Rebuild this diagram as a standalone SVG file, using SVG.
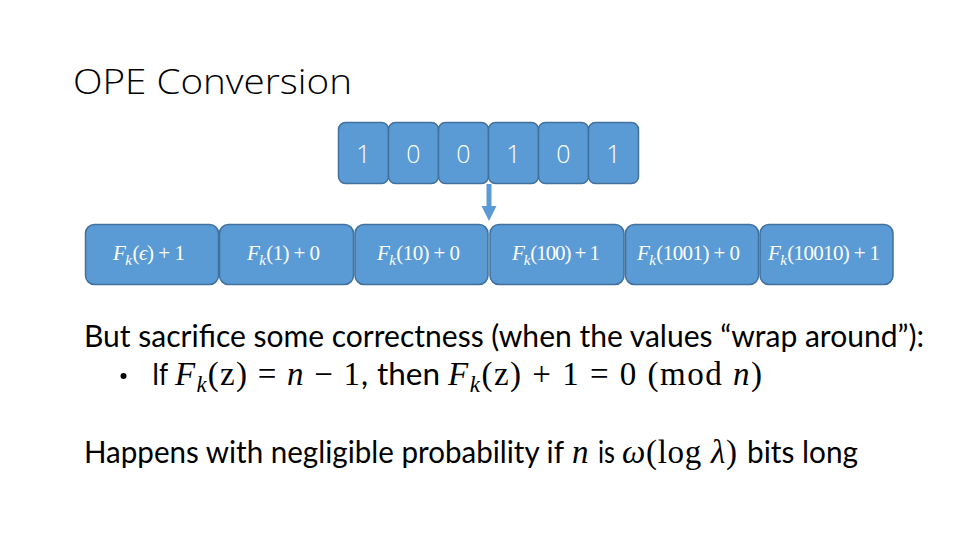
<svg xmlns="http://www.w3.org/2000/svg" width="960" height="540" viewBox="0 0 960 540">
<defs>
<style>
.bit rect{fill:#5B9BD5;stroke:#41719C;stroke-width:1.5}
.bit text{fill:#fff;font-family:"Open Sans","Liberation Sans",sans-serif;font-weight:300;font-size:25px;text-anchor:middle}
.fk rect{fill:#5B9BD5;stroke:#41719C;stroke-width:1.5}
.fk text{fill:#fff;font-family:"Liberation Serif",serif;font-size:21px;text-anchor:middle}
.it{font-style:italic}
.sub{font-style:italic;font-size:15px}
.body{font-family:Lato,"Open Sans","Liberation Sans",sans-serif;font-size:31px;fill:#000}
.m{font-family:"Liberation Serif",serif;font-size:33px;fill:#000}
</style>
</defs>
<rect width="960" height="540" fill="#fff"/>
<text x="73" y="94" font-family="Open Sans, Liberation Sans, sans-serif" font-weight="300" font-size="35" fill="#000" textLength="279" lengthAdjust="spacingAndGlyphs">OPE Conversion</text>

<g id="bit1" class="bit"><rect x="338.5" y="122.5" width="50" height="61" rx="7"/><text x="363.5" y="163">1</text></g>
<g id="bit2" class="bit"><rect x="388.5" y="122.5" width="50" height="61" rx="7"/><text x="413.5" y="163">0</text></g>
<g id="bit3" class="bit"><rect x="438.5" y="122.5" width="50" height="61" rx="7"/><text x="463.5" y="163">0</text></g>
<g id="bit4" class="bit"><rect x="488.5" y="122.5" width="50" height="61" rx="7"/><text x="513.5" y="163">1</text></g>
<g id="bit5" class="bit"><rect x="538.5" y="122.5" width="50" height="61" rx="7"/><text x="563.5" y="163">0</text></g>
<g id="bit6" class="bit"><rect x="588.5" y="122.5" width="50" height="61" rx="7"/><text x="613.5" y="163">1</text></g>

<g id="connectors">
<rect x="486.5" y="184" width="5" height="23" fill="#5B9BD5"/>
<polygon points="481.5,206 496.5,206 489,221" fill="#5B9BD5"/>
</g>

<g id="fk1" class="fk"><rect x="85.5" y="224.5" width="133" height="60" rx="9"/><text x="149" y="260" textLength="72" lengthAdjust="spacing"><tspan class="it">F</tspan><tspan class="sub" dy="5">k</tspan><tspan dy="-5" dx="1">(</tspan><tspan class="it">ϵ</tspan>) + 1</text></g>
<g id="fk2" class="fk"><rect x="219.5" y="224.5" width="134" height="60" rx="9"/><text x="283.5" y="260" textLength="73" lengthAdjust="spacing"><tspan class="it">F</tspan><tspan class="sub" dy="5">k</tspan><tspan dy="-5" dx="1">(1) + 0</tspan></text></g>
<g id="fk3" class="fk"><rect x="355" y="224.5" width="133" height="60" rx="9"/><text x="418.5" y="260" textLength="83" lengthAdjust="spacing"><tspan class="it">F</tspan><tspan class="sub" dy="5">k</tspan><tspan dy="-5" dx="1">(10) + 0</tspan></text></g>
<g id="fk4" class="fk"><rect x="490" y="224.5" width="134" height="60" rx="9"/><text x="556" y="260" textLength="88" lengthAdjust="spacing"><tspan class="it">F</tspan><tspan class="sub" dy="5">k</tspan><tspan dy="-5" dx="1">(100) + 1</tspan></text></g>
<g id="fk5" class="fk"><rect x="625.5" y="224.5" width="133" height="60" rx="9"/><text x="688.5" y="260" textLength="103" lengthAdjust="spacing"><tspan class="it">F</tspan><tspan class="sub" dy="5">k</tspan><tspan dy="-5" dx="1">(1001) + 0</tspan></text></g>
<g id="fk6" class="fk"><rect x="760" y="224.5" width="133" height="60" rx="9"/><text x="824" y="260" textLength="112" lengthAdjust="spacing"><tspan class="it">F</tspan><tspan class="sub" dy="5">k</tspan><tspan dy="-5" dx="1">(10010) + 1</tspan></text></g>

<text class="body" x="84" y="347" textLength="840" lengthAdjust="spacingAndGlyphs">But sacrifice some correctness (when the values “wrap around”):</text>
<circle cx="123.5" cy="376" r="3" fill="#000"/>
<text class="body" x="152" y="385" font-size="30" textLength="16" lengthAdjust="spacingAndGlyphs">If</text>
<text class="m" x="175" y="385" textLength="185" lengthAdjust="spacing"><tspan class="it">F</tspan><tspan class="it" font-size="23" dy="7">k</tspan><tspan dy="-7">(z) = </tspan><tspan class="it">n</tspan> − 1</text>
<text class="body" x="361" y="385" font-size="30">,</text>
<text class="body" x="377" y="385" font-size="30" textLength="63" lengthAdjust="spacingAndGlyphs">then</text>
<text class="m" x="448" y="385" textLength="314" lengthAdjust="spacing"><tspan class="it">F</tspan><tspan class="it" font-size="23" dy="7">k</tspan><tspan dy="-7">(z) + 1 = 0 (mod </tspan><tspan class="it">n</tspan>)</text>
<text class="body" x="84" y="463" textLength="480" lengthAdjust="spacingAndGlyphs">Happens with negligible probability if</text>
<text class="m it" x="572" y="463">n</text>
<text class="body" x="598" y="463" textLength="17" lengthAdjust="spacingAndGlyphs">is</text>
<text class="m" x="622" y="463" textLength="115" lengthAdjust="spacing"><tspan class="it">ω</tspan>(log <tspan class="it">λ</tspan>)</text>
<text class="body" x="747" y="463" textLength="111" lengthAdjust="spacingAndGlyphs">bits long</text>
</svg>
